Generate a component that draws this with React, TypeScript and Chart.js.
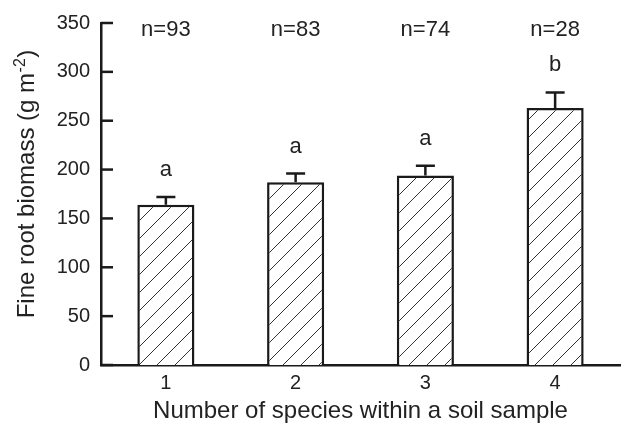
import React, { useEffect, useRef } from "react";
import { Chart, registerables } from "chart.js";

Chart.register(...registerables);

const categories = ["1", "2", "3", "4"];
const meanBiomass = [164, 187, 194, 263];
const seBiomass = [8, 9, 10, 16];
const sampleSizes = ["n=93", "n=83", "n=74", "n=28"];
const groupLetters = ["a", "a", "a", "b"];
const yTicks = [0, 50, 100, 150, 200, 250, 300, 350];

const FONT = "'Liberation Sans', Arial, Helvetica, sans-serif";
const INK = "#1a1a1a";

function makeHatch(): CanvasPattern | string {
  const s = 18;
  const c = document.createElement("canvas");
  c.width = s;
  c.height = s;
  const g = c.getContext("2d");
  if (!g) return "#fff";
  g.fillStyle = "#ffffff";
  g.fillRect(0, 0, s, s);
  g.strokeStyle = "#333";
  g.lineWidth = 1;
  g.beginPath();
  g.moveTo(-2, s + 2);
  g.lineTo(s + 2, -2);
  g.moveTo(-2, 2);
  g.lineTo(2, -2);
  g.moveTo(s - 2, s + 2);
  g.lineTo(s + 2, s - 2);
  g.stroke();
  const p = g.createPattern(c, "repeat");
  return p || "#fff";
}

const overlayPlugin = {
  id: "overlay",
  afterDatasetsDraw(chart: any) {
    const { ctx, chartArea, scales } = chart;
    const y = scales.y;
    const meta = chart.getDatasetMeta(0);
    ctx.save();
    ctx.strokeStyle = INK;
    ctx.lineWidth = 2.5;
    meta.data.forEach((bar: any, i: number) => {
      const top = y.getPixelForValue(meanBiomass[i] + seBiomass[i]);
      ctx.beginPath();
      ctx.moveTo(bar.x, bar.y);
      ctx.lineTo(bar.x, top);
      ctx.moveTo(bar.x - 9.5, top);
      ctx.lineTo(bar.x + 9.5, top);
      ctx.stroke();
      ctx.fillStyle = "#222";
      ctx.font = `22px ${FONT}`;
      ctx.textAlign = "center";
      ctx.textBaseline = "middle";
      ctx.fillText(groupLetters[i], bar.x, top - 27);
      ctx.fillText(sampleSizes[i], bar.x, chartArea.top + 7);
    });
    ctx.restore();
  },
  afterDraw(chart: any) {
    const { ctx, chartArea, scales } = chart;
    const y = scales.y;
    ctx.save();
    ctx.strokeStyle = INK;
    ctx.lineWidth = 2.5;
    yTicks.forEach((v) => {
      const py = y.getPixelForValue(v);
      ctx.beginPath();
      ctx.moveTo(chartArea.left, py);
      ctx.lineTo(chartArea.left + 12, py);
      ctx.stroke();
    });
    const main = "Fine root biomass (g m";
    const sup = "-2";
    const close = ")";
    ctx.fillStyle = "#222";
    ctx.textBaseline = "alphabetic";
    ctx.textAlign = "left";
    ctx.font = `24px ${FONT}`;
    const wMain = ctx.measureText(main).width;
    const wClose = ctx.measureText(close).width;
    ctx.font = `16px ${FONT}`;
    const wSup = ctx.measureText(sup).width;
    const total = wMain + wSup + wClose + 1;
    ctx.translate(33.5, 184);
    ctx.rotate(-Math.PI / 2);
    let x = -total / 2;
    ctx.font = `24px ${FONT}`;
    ctx.fillText(main, x, 0);
    x += wMain;
    ctx.font = `16px ${FONT}`;
    ctx.fillText(sup, x + 0.5, -9);
    x += wSup + 1;
    ctx.font = `24px ${FONT}`;
    ctx.fillText(close, x, 0);
    ctx.restore();
  },
};

export default function App() {
  const ref = useRef<HTMLCanvasElement | null>(null);
  useEffect(() => {
    if (!ref.current) return;
    const chart = new Chart(ref.current, {
      type: "bar",
      data: {
        labels: categories,
        datasets: [
          {
            data: meanBiomass,
            backgroundColor: makeHatch() as any,
            borderColor: INK,
            borderWidth: 2.5,
            borderSkipped: "start",
            barPercentage: 0.44,
            categoryPercentage: 1,
          },
        ],
      },
      options: {
        responsive: false,
        animation: false,
        devicePixelRatio: 1,
        layout: { padding: { top: 20, right: 3, left: 0, bottom: 0 } },
        plugins: {
          legend: { display: false },
          tooltip: { enabled: false },
        },
        scales: {
          x: {
            grid: { display: false, drawTicks: false },
            border: { display: true, width: 2.5, color: INK },
            ticks: {
              color: "#222",
              font: { size: 20, family: FONT },
              padding: 6,
            },
            title: {
              display: true,
              text: "Number of species within a soil sample",
              color: "#222",
              font: { size: 24, family: FONT },
              padding: { top: 0, bottom: 0 },
            },
            afterFit(scale: any) {
              scale.height = 61;
            },
          },
          y: {
            min: 0,
            max: 350,
            grid: { display: false, drawTicks: false },
            border: { display: true, width: 2.5, color: INK },
            ticks: {
              stepSize: 50,
              color: "#222",
              font: { size: 20, family: FONT },
              padding: 11,
            },
            afterFit(scale: any) {
              scale.width = 101;
            },
          },
        },
      },
      plugins: [overlayPlugin],
    });
    return () => chart.destroy();
  }, []);
  return (
    <div style={{ position: "fixed", left: 0, top: 0, width: 623, height: 426, background: "#fff" }}>
      <canvas ref={ref} width={623} height={426} />
    </div>
  );
}
